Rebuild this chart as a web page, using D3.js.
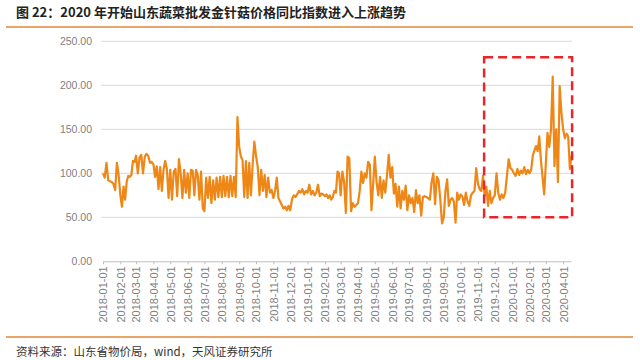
<!DOCTYPE html>
<html lang="zh">
<head>
<meta charset="UTF-8" />
<title>山东蔬菜批发金针菇价格同比指数</title>
<script src="https://d3js.org/d3.v7.min.js"></script>
<style>
  body { margin: 0; background: #fff; font-family: "Noto Sans CJK SC", "Noto Sans", sans-serif; }
  .axis text { fill: #7f7f7f; font-family: "Liberation Sans", Arial, sans-serif; }
  .axis .domain { stroke: #bfbfbf; }
  .axis line { stroke: #bfbfbf; }
</style>
</head>
<body>
<div id="chart"></div>
<script>
// 10 readings per month, spread evenly inside the month (last month partial)
const months = [
  '2018-01', '2018-02', '2018-03', '2018-04', '2018-05', '2018-06', '2018-07',
  '2018-08', '2018-09', '2018-10', '2018-11', '2018-12', '2019-01', '2019-02',
  '2019-03', '2019-04', '2019-05', '2019-06', '2019-07', '2019-08', '2019-09',
  '2019-10', '2019-11', '2019-12', '2020-01', '2020-02', '2020-03', '2020-04'
];
const values = [
  [100, 95, 112, 92, 91, 90, 88, 81, 112, 98],
  [75, 62, 85, 70, 90, 97, 96, 98, 114, 113],
  [120, 100, 118, 121, 100, 119, 122, 120, 112, 113],
  [110, 96, 108, 82, 107, 80, 104, 114, 105, 72],
  [104, 70, 102, 105, 74, 116, 100, 72, 104, 78],
  [100, 72, 104, 103, 75, 104, 98, 70, 102, 60],
  [57, 95, 72, 96, 66, 92, 70, 95, 73, 96],
  [73, 97, 74, 96, 73, 97, 74, 96, 73, 164],
  [130, 119, 115, 73, 114, 72, 112, 75, 110, 136],
  [120, 107, 75, 104, 80, 98, 73, 95, 78, 81],
  [72, 80, 95, 72, 68, 64, 60, 62, 58, 63],
  [58, 70, 75, 73, 76, 80, 78, 82, 76, 80],
  [78, 87, 76, 80, 75, 78, 87, 74, 77, 76],
  [74, 76, 72, 75, 70, 73, 80, 78, 102, 100],
  [75, 102, 90, 55, 119, 117, 57, 66, 62, 64],
  [66, 80, 102, 89, 100, 95, 113, 110, 58, 88],
  [119, 90, 75, 96, 72, 92, 78, 98, 121, 95],
  [107, 77, 88, 62, 85, 60, 80, 70, 86, 58],
  [75, 66, 72, 56, 81, 66, 75, 52, 73, 74],
  [73, 72, 70, 90, 100, 65, 96, 92, 70, 43],
  [50, 80, 93, 63, 70, 72, 68, 44, 78, 70],
  [76, 74, 64, 78, 68, 63, 75, 78, 80, 106],
  [88, 82, 80, 97, 74, 85, 63, 80, 66, 72],
  [75, 100, 78, 70, 76, 72, 78, 97, 116, 106],
  [104, 100, 97, 105, 98, 103, 100, 107, 99, 104],
  [100, 104, 120, 126, 131, 125, 142, 115, 96, 76],
  [110, 146, 130, 150, 210, 108, 150, 90, 199, 169],
  [150, 140, 145, 142, 105, 120]
];
const yTicks = [0, 50, 100, 150, 200, 250];
// red dashed highlight box (date range x value range)
const boxDates = ['2019-11-12', '2020-04-17'];
const boxValues = [50, 232];

const title = '图 22：2020 年开始山东蔬菜批发金针菇价格同比指数进入上涨趋势';
const source = '资料来源：山东省物价局，wind，天风证券研究所';

const width = 640;
const height = 360;
const parseDay = d3.timeParse('%Y-%m-%d');

// build the series
const data = [];
months.forEach((m, i) => {
  const start = parseDay(m + '-01');
  const step = (d3.timeMonth.offset(start, 1) - start) / 10;
  values[i].forEach((v, j) => {
    data.push({ date: new Date(+start + j * step), value: v });
  });
});

const svg = d3.select('#chart').append('svg')
  .attr('width', width)
  .attr('height', height);

// header + footer
svg.append('text')
  .attr('x', 16).attr('y', 17)
  .attr('font-size', 13).attr('font-weight', 'bold')
  .attr('fill', '#222')
  .text(title);
svg.append('line')
  .attr('x1', 6).attr('x2', 633).attr('y1', 27).attr('y2', 27)
  .attr('stroke', '#e9a46a').attr('stroke-width', 2);
svg.append('line')
  .attr('x1', 6).attr('x2', 633).attr('y1', 337).attr('y2', 337)
  .attr('stroke', '#e9a46a').attr('stroke-width', 2);
svg.append('text')
  .attr('x', 16).attr('y', 356)
  .attr('font-size', 11.5)
  .attr('fill', '#333')
  .text(source);

// scales
const x = d3.scaleTime()
  .domain([parseDay('2018-01-01'), parseDay('2020-04-15')])
  .range([103, 571]);
const y = d3.scaleLinear()
  .domain([0, 250])
  .range([261.3, 41.3]);

// gridlines
svg.append('g')
  .selectAll('line')
  .data(yTicks.filter((d) => d > 0))
  .join('line')
  .attr('x1', 101).attr('x2', 572)
  .attr('y1', (d) => y(d)).attr('y2', (d) => y(d))
  .attr('stroke', '#d9d9d9').attr('stroke-width', 1);

// y axis
const yAxis = svg.append('g')
  .attr('class', 'axis')
  .attr('transform', 'translate(101,0)')
  .call(d3.axisLeft(y).tickValues(yTicks).tickFormat(d3.format('.2f')).tickSize(0).tickPadding(9));
yAxis.select('.domain').remove();
yAxis.selectAll('text').attr('font-size', 10.5);

// x axis
const xAxis = svg.append('g')
  .attr('class', 'axis')
  .attr('transform', `translate(0,${y(0)})`)
  .call(d3.axisBottom(x)
    .tickValues(months.map((m) => parseDay(m + '-01')))
    .tickFormat(d3.timeFormat('%Y-%m-%d'))
    .tickSize(3)
    .tickSizeOuter(0));
xAxis.selectAll('text')
  .attr('font-size', 11)
  .attr('transform', 'rotate(-90)')
  .attr('text-anchor', 'end')
  .attr('x', -5)
  .attr('y', 0)
  .attr('dy', '0.35em');

// the series
const line = d3.line()
  .x((d) => x(d.date))
  .y((d) => y(d.value));
svg.append('path')
  .datum(data)
  .attr('d', line)
  .attr('fill', 'none')
  .attr('stroke', '#ee8716')
  .attr('stroke-width', 2.2)
  .attr('stroke-linejoin', 'round');

// highlight box
const bx0 = x(parseDay(boxDates[0]));
const bx1 = x(parseDay(boxDates[1]));
svg.append('rect')
  .attr('x', bx0)
  .attr('y', y(boxValues[1]))
  .attr('width', bx1 - bx0)
  .attr('height', y(boxValues[0]) - y(boxValues[1]))
  .attr('fill', 'none')
  .attr('stroke', '#e8262a')
  .attr('stroke-width', 2.5)
  .attr('stroke-dasharray', '9,5');
</script>
</body>
</html>
